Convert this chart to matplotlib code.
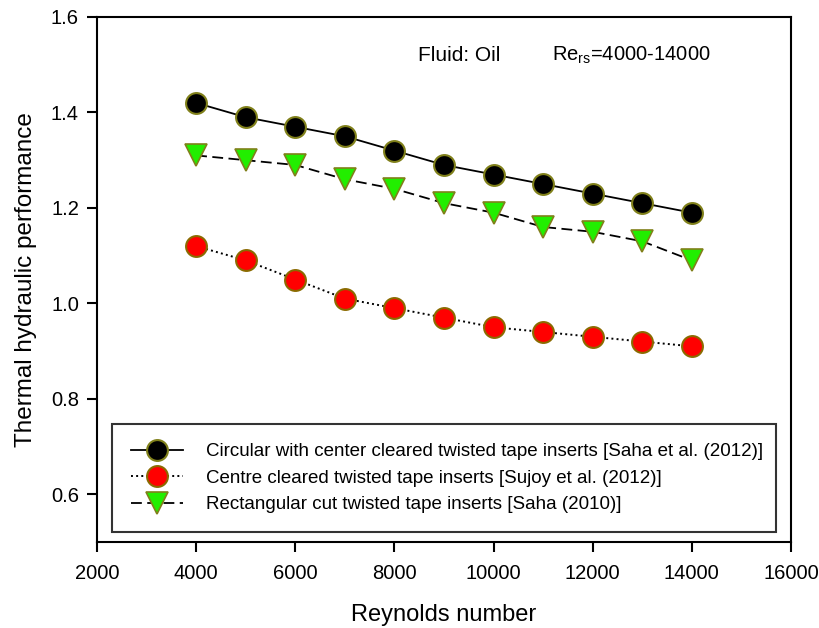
import numpy as np
import matplotlib
matplotlib.use("Agg")
import matplotlib.pyplot as plt

plt.rcParams['font.family'] = ['Liberation Sans', 'DejaVu Sans']

# Reynolds numbers
reynolds = [4000, 5000, 6000, 7000, 8000, 9000, 10000, 11000, 12000, 13000, 14000]
# Thermal hydraulic performance
circular = [1.42, 1.39, 1.37, 1.35, 1.32, 1.29, 1.27, 1.25, 1.23, 1.21, 1.19]
centre = [1.12, 1.09, 1.05, 1.01, 0.99, 0.97, 0.95, 0.94, 0.93, 0.92, 0.91]
rect = [1.31, 1.30, 1.29, 1.26, 1.24, 1.21, 1.19, 1.16, 1.15, 1.13, 1.09]

labels = [
    "Circular with center cleared twisted tape inserts [Saha et al. (2012)]",
    "Centre cleared twisted tape inserts [Sujoy et al. (2012)]",
    "Rectangular cut twisted tape inserts [Saha (2010)]",
]

def main():
    fig = plt.figure(figsize=(8.19, 6.28), dpi=100)
    # axes box in pixels: x 97..791, y 17..542
    ax = fig.add_axes([97/819, 1-542/628, (791-97)/819, (542-17)/628])

    edge = "#80801a"
    ax.plot(reynolds, circular, '-', color='black', lw=1.3,
            marker='o', ms=15, mfc='black', mec=edge, mew=1.5, label=labels[0])
    ax.plot(reynolds, centre, ':', color='black', lw=1.4,
            marker='o', ms=15, mfc='#ff0000', mec='#8b6a00', mew=1.5, label=labels[1])
    ax.plot(reynolds, rect, color='black', lw=1.3, dashes=(6, 3),
            marker='v', ms=16, mfc='#22ee00', mec=edge, mew=1.2, label=labels[2])

    ax.set_xlim(2000, 16000)
    ax.set_ylim(0.5, 1.6)
    ax.set_xticks(np.arange(2000, 16001, 2000))
    ax.set_yticks(np.arange(0.6, 1.61, 0.2))
    ax.yaxis.set_major_formatter(matplotlib.ticker.FormatStrFormatter('%.1f'))
    ax.tick_params(direction='out', length=7, width=1.5, labelsize=14.5, top=False, right=False)
    ax.tick_params(axis='x', pad=9)
    ax.tick_params(axis='y', pad=6)
    for s in ax.spines.values():
        s.set_linewidth(1.5)

    ax.set_xlabel("Reynolds number", fontsize=17, labelpad=15)
    ax.set_ylabel("Thermal hydraulic performance", fontsize=17.5, labelpad=10)

    ax.text(8475, 1.52, "Fluid: Oil", fontsize=15, ha='left', va='center')
    ax.text(11180, 1.52, r"Re$_{\mathregular{rs}}$=4000-14000", fontsize=14.5, ha='left', va='center')

    # legend box in pixels: x 112..776, y 421..532
    leg = ax.legend(loc='lower left', bbox_to_anchor=(15/694, 10/525, (776-112)/694, (532-421)/525),
                    mode='expand', fontsize=13.5, frameon=True, fancybox=False,
                    handlelength=2.8, handletextpad=1.2, borderaxespad=0,
                    labelspacing=0.5, borderpad=1.0)
    leg.get_frame().set_edgecolor('black')
    leg.get_frame().set_linewidth(1.5)

    fig.savefig("out.png", dpi=100)

if __name__ == '__main__':
    main()
